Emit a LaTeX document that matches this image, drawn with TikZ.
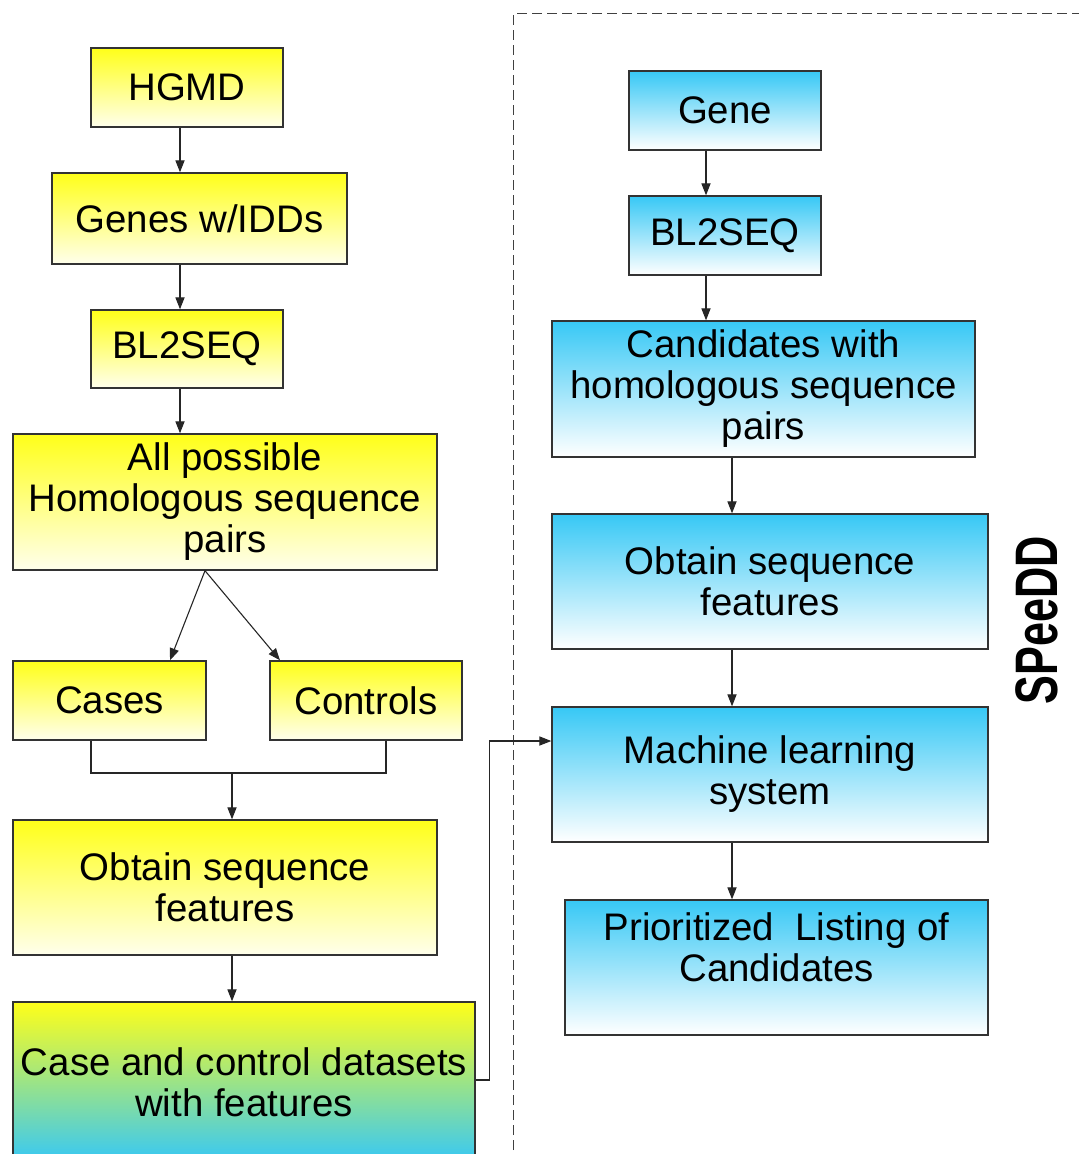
\documentclass[tikz,border=0pt]{standalone}
\usepackage{fontspec}
\setmainfont{Liberation Sans}
\usetikzlibrary{arrows.meta}
\definecolor{hgmdyellow}{RGB}{255,255,25}
\definecolor{paleyellow}{RGB}{255,255,236}
\definecolor{genecyan}{RGB}{55,200,245}
\definecolor{mixgreen}{RGB}{222,240,192}

\begin{document}
\begin{tikzpicture}
	[x=0.5pt, y=-0.5pt,
	 box/.style={rectangle, draw=black!80, line width=0.7pt, inner sep=0pt, align=center, font=\fontsize{19.2}{20.5}\selectfont},
	 ybox/.style={box, top color=hgmdyellow, bottom color=paleyellow},
	 bbox/.style={box, top color=genecyan, bottom color=white},
	 wire/.style={line width=0.55pt, draw=black!85},
	 link/.style={wire, -{Triangle[length=6pt, width=4.6pt]}},
	 frame/.style={line width=0.5pt, draw=black!75, dash pattern=on 5pt off 2.5pt}]
	\useasboundingbox (0,0) rectangle (1078,1154);
	\draw[frame] (513,1165) |- (1090,14);
	\node[ybox, minimum width=96pt, minimum height=39.5pt] (hgmd) at (187,87.5) {HGMD};
	\node[ybox, minimum width=147.5pt, minimum height=45.5pt] (genes) at (199.5,218.5) {Genes w/IDDs};
	\node[ybox, minimum width=96pt, minimum height=39pt] (blastl) at (187,349) {BL2SEQ};
	\node[ybox, minimum width=212pt, minimum height=68pt] (pairsl) at (225,502) {All possible\\Homologous sequence\\pairs};
	\node[ybox, minimum width=96.5pt, minimum height=39.5pt] (cases) at (109.5,700.5) {Cases};
	\node[ybox, minimum width=96pt, minimum height=39.5pt] (controls) at (366,700.5) {Controls};
	\node[ybox, minimum width=212pt, minimum height=67.5pt] (featl) at (225,887.5) {Obtain sequence\\features};
	\node[box, top color=hgmdyellow, middle color=mixgreen, bottom color=genecyan, minimum width=231pt, minimum height=80pt] (data) at (244,1082) {Case and control datasets\\with features};
	\node[bbox, minimum width=96pt, minimum height=39.5pt] (gene) at (725,110.5) {Gene};
	\node[bbox, minimum width=96pt, minimum height=39.5pt] (blastr) at (725,235.5) {BL2SEQ};
	\node[bbox, minimum width=211.5pt, minimum height=68pt] (cands) at (763.5,389) {Candidates with\\homologous sequence\\pairs};
	\node[bbox, minimum width=218pt, minimum height=67.5pt] (featr) at (770,581.5) {Obtain sequence\\features};
	\node[bbox, minimum width=218pt, minimum height=67.5pt] (mls) at (770,774.5) {Machine learning\\system};
	\node[bbox, minimum width=211.5pt, minimum height=67.5pt] (prio) at (776.5,967.5) {Prioritized\ \ Listing of\\Candidates\\\mbox{}};
	\node[rotate=90, xscale=0.72, inner sep=0pt, font=\bfseries\fontsize{30}{30}\selectfont] (speedd) at (1037,620) {SPeeDD};
	\coordinate (merge) at (232,773);
	\draw[link] ([xshift=-3.5pt]hgmd.south) -- ([xshift=-3.5pt]hgmd.south |- genes.north);
	\draw[link] ([xshift=-9.75pt]genes.south) -- ([xshift=-9.75pt]genes.south |- blastl.north);
	\draw[link] ([xshift=-3.5pt]blastl.south) -- ([xshift=-3.5pt]blastl.south |- pairsl.north);
	\draw[link] ([xshift=-10pt]pairsl.south) -- ([xshift=30.25pt]cases.north);
	\draw[link] ([xshift=-10pt]pairsl.south) -- ([xshift=-43pt]controls.north);
	\draw[wire] ([xshift=-9.25pt]cases.south) |- (merge) -| ([xshift=10pt]controls.south);
	\draw[link] (merge) -- (merge |- featl.north);
	\draw[link] ([xshift=3.5pt]featl.south) -- ([xshift=3.5pt]featl.south |- data.north);
	\draw[link] ([yshift=1pt]data.east) -- ++(14,0) |- ([yshift=16.75pt]mls.west);
	\draw[link] ([xshift=-9.5pt]gene.south) -- ([xshift=-9.5pt]gene.south |- blastr.north);
	\draw[link] ([xshift=-9.5pt]blastr.south) -- ([xshift=-9.5pt]blastr.south |- cands.north);
	\draw[link] ([xshift=-15.75pt]cands.south) -- ([xshift=-15.75pt]cands.south |- featr.north);
	\draw[link] ([xshift=-19pt]featr.south) -- ([xshift=-19pt]featr.south |- mls.north);
	\draw[link] ([xshift=-19pt]mls.south) -- ([xshift=-19pt]mls.south |- prio.north);
\end{tikzpicture}
\end{document}
